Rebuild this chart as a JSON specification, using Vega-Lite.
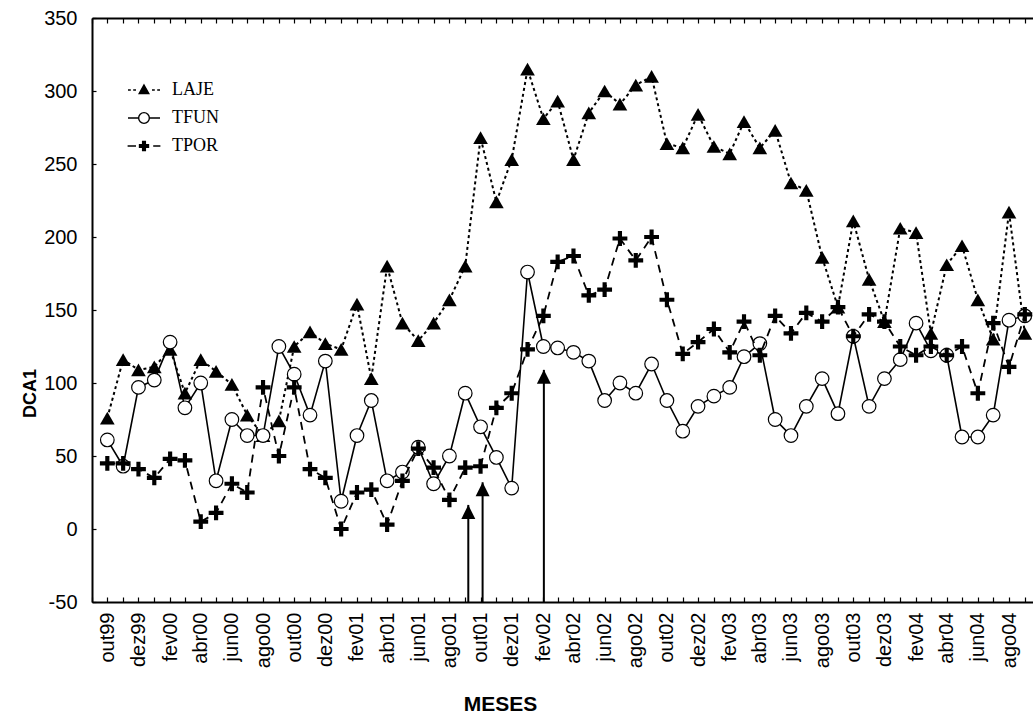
{
  "$schema": "https://vega.github.io/schema/vega-lite/v6.json",
  "autosize": "none",
  "width": 941,
  "height": 584,
  "padding": {"left": 92, "top": 18, "right": 0, "bottom": 112},
  "background": "white",
  "config": {
    "view": {"stroke": null},
    "axis": {"grid": false, "domainColor": "black", "tickColor": "black", "labelColor": "black", "titleColor": "black"}
  },
  "datasets": {
    "meses": [
      {"mes": "1999-10-01", "LAJE": 76, "TFUN": 61, "TPOR": 45},
      {"mes": "1999-11-01", "LAJE": 116, "TFUN": 43, "TPOR": 45},
      {"mes": "1999-12-01", "LAJE": 109, "TFUN": 97, "TPOR": 41},
      {"mes": "2000-01-01", "LAJE": 111, "TFUN": 102, "TPOR": 35},
      {"mes": "2000-02-01", "LAJE": 123, "TFUN": 128, "TPOR": 48},
      {"mes": "2000-03-01", "LAJE": 93, "TFUN": 83, "TPOR": 47},
      {"mes": "2000-04-01", "LAJE": 116, "TFUN": 100, "TPOR": 5},
      {"mes": "2000-05-01", "LAJE": 108, "TFUN": 33, "TPOR": 11},
      {"mes": "2000-06-01", "LAJE": 99, "TFUN": 75, "TPOR": 31},
      {"mes": "2000-07-01", "LAJE": 78, "TFUN": 64, "TPOR": 25},
      {"mes": "2000-08-01", "LAJE": 64, "TFUN": 64, "TPOR": 97},
      {"mes": "2000-09-01", "LAJE": 74, "TFUN": 125, "TPOR": 50},
      {"mes": "2000-10-01", "LAJE": 125, "TFUN": 106, "TPOR": 97},
      {"mes": "2000-11-01", "LAJE": 135, "TFUN": 78, "TPOR": 41},
      {"mes": "2000-12-01", "LAJE": 127, "TFUN": 115, "TPOR": 35},
      {"mes": "2001-01-01", "LAJE": 123, "TFUN": 19, "TPOR": 0},
      {"mes": "2001-02-01", "LAJE": 154, "TFUN": 64, "TPOR": 25},
      {"mes": "2001-03-01", "LAJE": 103, "TFUN": 88, "TPOR": 27},
      {"mes": "2001-04-01", "LAJE": 180, "TFUN": 33, "TPOR": 3},
      {"mes": "2001-05-01", "LAJE": 141, "TFUN": 39, "TPOR": 33},
      {"mes": "2001-06-01", "LAJE": 129, "TFUN": 56, "TPOR": 55},
      {"mes": "2001-07-01", "LAJE": 141, "TFUN": 31, "TPOR": 42},
      {"mes": "2001-08-01", "LAJE": 157, "TFUN": 50, "TPOR": 20},
      {"mes": "2001-09-01", "LAJE": 180, "TFUN": 93, "TPOR": 42},
      {"mes": "2001-10-01", "LAJE": 268, "TFUN": 70, "TPOR": 43},
      {"mes": "2001-11-01", "LAJE": 224, "TFUN": 49, "TPOR": 83},
      {"mes": "2001-12-01", "LAJE": 253, "TFUN": 28, "TPOR": 93},
      {"mes": "2002-01-01", "LAJE": 315, "TFUN": 176, "TPOR": 123},
      {"mes": "2002-02-01", "LAJE": 281, "TFUN": 125, "TPOR": 146},
      {"mes": "2002-03-01", "LAJE": 293, "TFUN": 124, "TPOR": 183},
      {"mes": "2002-04-01", "LAJE": 253, "TFUN": 121, "TPOR": 187},
      {"mes": "2002-05-01", "LAJE": 285, "TFUN": 115, "TPOR": 160},
      {"mes": "2002-06-01", "LAJE": 300, "TFUN": 88, "TPOR": 164},
      {"mes": "2002-07-01", "LAJE": 291, "TFUN": 100, "TPOR": 199},
      {"mes": "2002-08-01", "LAJE": 304, "TFUN": 93, "TPOR": 184},
      {"mes": "2002-09-01", "LAJE": 310, "TFUN": 113, "TPOR": 200},
      {"mes": "2002-10-01", "LAJE": 264, "TFUN": 88, "TPOR": 157},
      {"mes": "2002-11-01", "LAJE": 261, "TFUN": 67, "TPOR": 120},
      {"mes": "2002-12-01", "LAJE": 284, "TFUN": 84, "TPOR": 128},
      {"mes": "2003-01-01", "LAJE": 262, "TFUN": 91, "TPOR": 137},
      {"mes": "2003-02-01", "LAJE": 257, "TFUN": 97, "TPOR": 121},
      {"mes": "2003-03-01", "LAJE": 279, "TFUN": 118, "TPOR": 142},
      {"mes": "2003-04-01", "LAJE": 261, "TFUN": 127, "TPOR": 119},
      {"mes": "2003-05-01", "LAJE": 273, "TFUN": 75, "TPOR": 146},
      {"mes": "2003-06-01", "LAJE": 237, "TFUN": 64, "TPOR": 134},
      {"mes": "2003-07-01", "LAJE": 232, "TFUN": 84, "TPOR": 148},
      {"mes": "2003-08-01", "LAJE": 186, "TFUN": 103, "TPOR": 142},
      {"mes": "2003-09-01", "LAJE": 152, "TFUN": 79, "TPOR": 152},
      {"mes": "2003-10-01", "LAJE": 211, "TFUN": 132, "TPOR": 132},
      {"mes": "2003-11-01", "LAJE": 171, "TFUN": 84, "TPOR": 147},
      {"mes": "2003-12-01", "LAJE": 142, "TFUN": 103, "TPOR": 142},
      {"mes": "2004-01-01", "LAJE": 206, "TFUN": 116, "TPOR": 125},
      {"mes": "2004-02-01", "LAJE": 203, "TFUN": 141, "TPOR": 119},
      {"mes": "2004-03-01", "LAJE": 134, "TFUN": 122, "TPOR": 125},
      {"mes": "2004-04-01", "LAJE": 181, "TFUN": 119, "TPOR": 119},
      {"mes": "2004-05-01", "LAJE": 194, "TFUN": 63, "TPOR": 125},
      {"mes": "2004-06-01", "LAJE": 157, "TFUN": 63, "TPOR": 93},
      {"mes": "2004-07-01", "LAJE": 130, "TFUN": 78, "TPOR": 141},
      {"mes": "2004-08-01", "LAJE": 217, "TFUN": 143, "TPOR": 111},
      {"mes": "2004-09-01", "LAJE": 134, "TFUN": 146, "TPOR": 147}
    ],
    "setas": [
      {"mes": "2001-09-07", "base": -50, "topo": 16.5},
      {"mes": "2001-10-05", "base": -50, "topo": 32},
      {"mes": "2002-02-02", "base": -50, "topo": 109}
    ]
  },
  "resolve": {"axis": {"x": "independent"}},
  "layer": [
    {
      "data": {"name": "meses"},
      "transform": [
        {"fold": ["LAJE", "TFUN", "TPOR"], "as": ["serie", "dca1"]},
        {"filter": "datum.serie === 'LAJE'"}
      ],
      "mark": {"type": "line", "color": "black", "strokeWidth": 2, "strokeDash": [3, 3]},
      "encoding": {
        "x": {
          "field": "mes", "type": "temporal",
          "scale": {"type": "utc", "domain": [
            {"year": 1999, "month": 9, "date": 1, "utc": true},
            {"year": 2004, "month": 9, "date": 17, "utc": true}
          ]},
          "axis": {
            "orient": "bottom",
            "tickCount": {"interval": "month", "step": 1},
            "tickSize": -5, "tickWidth": 1.2, "domainWidth": 2,
            "labelExpr": "utcmonth(datum.value) % 2 == 1 ? ['jan','fev','mar','abr','mai','jun','jul','ago','set','out','nov','dez'][utcmonth(datum.value)] + utcFormat(datum.value, '%y') : ''",
            "labelAngle": 270, "labelAlign": "right", "labelBaseline": "middle",
            "labelPadding": 15, "labelFont": "Liberation Sans", "labelFontSize": 20,
            "labelOverlap": false, "labelFlush": false, "labelBound": false,
            "title": "MESES", "titleFont": "Liberation Sans", "titleFontSize": 21, "titleFontWeight": "bold",
            "titleX": 408, "titleY": 108, "titleBaseline": "alphabetic", "titleAlign": "center"
          }
        },
        "y": {
          "field": "dca1", "type": "quantitative",
          "scale": {"domain": [-50, 350], "nice": false, "zero": false},
          "axis": {
            "values": [-50, 0, 50, 100, 150, 200, 250, 300, 350],
            "labelExpr": "'' + datum.value",
            "tickSize": -4, "tickWidth": 1.2, "domainWidth": 2,
            "labelPadding": 19, "labelFont": "Liberation Sans", "labelFontSize": 20,
            "labelOverlap": false, "labelFlush": false, "labelBound": false,
            "title": "DCA1", "titleFont": "Liberation Sans", "titleFontSize": 18, "titleFontWeight": "bold",
            "titleAngle": 270, "titleX": -62, "titleY": 375, "titleAlign": "center", "titleBaseline": "middle"
          }
        }
      }
    },
    {
      "data": {"name": "meses"},
      "transform": [
        {"fold": ["LAJE", "TFUN", "TPOR"], "as": ["serie", "dca1"]},
        {"filter": "datum.serie === 'LAJE'"}
      ],
      "mark": {"type": "point", "shape": "triangle-up", "filled": true, "fill": "black", "strokeWidth": 0, "size": 215, "opacity": 1},
      "encoding": {
        "x": {
          "field": "mes", "type": "temporal",
          "axis": {
            "orient": "top", "labels": false, "title": null,
            "tickCount": {"interval": "month", "step": 1},
            "tickSize": -5, "tickWidth": 1.2, "domainWidth": 2
          }
        },
        "y": {"field": "dca1", "type": "quantitative"}
      }
    },
    {
      "data": {"name": "meses"},
      "transform": [
        {"fold": ["LAJE", "TFUN", "TPOR"], "as": ["serie", "dca1"]},
        {"filter": "datum.serie === 'TFUN'"}
      ],
      "mark": {"type": "line", "color": "black", "strokeWidth": 1.6},
      "encoding": {
        "x": {"field": "mes", "type": "temporal", "axis": null},
        "y": {"field": "dca1", "type": "quantitative"}
      }
    },
    {
      "data": {"name": "meses"},
      "transform": [
        {"fold": ["LAJE", "TFUN", "TPOR"], "as": ["serie", "dca1"]},
        {"filter": "datum.serie === 'TFUN'"}
      ],
      "mark": {"type": "point", "shape": "circle", "filled": true, "fill": "white", "stroke": "black", "strokeWidth": 1.2, "size": 185, "opacity": 1},
      "encoding": {
        "x": {"field": "mes", "type": "temporal", "axis": null},
        "y": {"field": "dca1", "type": "quantitative"}
      }
    },
    {
      "data": {"name": "meses"},
      "transform": [
        {"fold": ["LAJE", "TFUN", "TPOR"], "as": ["serie", "dca1"]},
        {"filter": "datum.serie === 'TPOR'"}
      ],
      "mark": {"type": "line", "color": "black", "strokeWidth": 1.8, "strokeDash": [8, 6]},
      "encoding": {
        "x": {"field": "mes", "type": "temporal", "axis": null},
        "y": {"field": "dca1", "type": "quantitative"}
      }
    },
    {
      "data": {"name": "meses"},
      "transform": [
        {"fold": ["LAJE", "TFUN", "TPOR"], "as": ["serie", "dca1"]},
        {"filter": "datum.serie === 'TPOR'"}
      ],
      "mark": {"type": "point", "shape": "M-1,-0.28H-0.28V-1H0.28V-0.28H1V0.28H0.28V1H-0.28V0.28H-1Z", "filled": true, "fill": "black", "strokeWidth": 0, "size": 220, "opacity": 1},
      "encoding": {
        "x": {"field": "mes", "type": "temporal", "axis": null},
        "y": {"field": "dca1", "type": "quantitative"}
      }
    },
    {
      "data": {"name": "setas"},
      "mark": {"type": "rule", "color": "black", "strokeWidth": 2},
      "encoding": {
        "x": {"field": "mes", "type": "temporal", "axis": null},
        "y": {"field": "base", "type": "quantitative"},
        "y2": {"field": "topo"}
      }
    },
    {
      "data": {"name": "setas"},
      "mark": {"type": "point", "shape": "M0,0L0.5,1L-0.5,1Z", "filled": true, "fill": "black", "strokeWidth": 0, "size": 784, "opacity": 1},
      "encoding": {
        "x": {"field": "mes", "type": "temporal", "axis": null},
        "y": {"field": "topo", "type": "quantitative"}
      }
    },
    {
      "data": {"name": "meses"},
      "transform": [
        {"fold": ["LAJE", "TFUN", "TPOR"], "as": ["serie", "dca1"]},
        {"filter": "false"}
      ],
      "mark": {"type": "point", "filled": true, "stroke": "black", "strokeWidth": 1.4, "size": 256, "opacity": 1},
      "encoding": {
        "x": {"field": "mes", "type": "temporal", "axis": null},
        "y": {"field": "dca1", "type": "quantitative"},
        "shape": {
          "field": "serie", "type": "nominal",
          "scale": {
            "domain": ["LAJE", "TFUN", "TPOR"],
            "range": [
              "M-2,0H-1.65M-1.35,0H-1M1,0H1.35M1.65,0H2M0,-0.62L0.6,0.45L-0.6,0.45Z",
              "M-2,0H-0.67M0.67,0H2M0.67,0A0.67,0.67,0,1,1,-0.67,0A0.67,0.67,0,1,1,0.67,0Z",
              "M-2.05,0H-1M1.15,0H2.05M-0.56,-0.17H-0.17V-0.56H0.17V-0.17H0.56V0.17H0.17V0.56H-0.17V0.17H-0.56Z"
            ]
          },
          "legend": {
            "title": null, "orient": "none", "legendX": 43, "legendY": 63, "padding": 0,
            "labelFont": "Liberation Serif", "labelFontSize": 18, "labelColor": "black",
            "labelOffset": 19, "rowPadding": 10, "symbolSize": 256,
            "symbolStrokeColor": "black", "symbolStrokeWidth": 1.4, "symbolOpacity": 1,
            "encoding": {"symbols": {"stroke": {"value": "black"}, "strokeWidth": {"value": 1.4}}}
          }
        },
        "fill": {
          "field": "serie", "type": "nominal",
          "scale": {"domain": ["LAJE", "TFUN", "TPOR"], "range": ["black", "white", "black"]},
          "legend": {
            "title": null, "orient": "none", "legendX": 43, "legendY": 63, "padding": 0,
            "labelFont": "Liberation Serif", "labelFontSize": 18, "labelColor": "black",
            "labelOffset": 19, "rowPadding": 10, "symbolSize": 256,
            "symbolStrokeColor": "black", "symbolStrokeWidth": 1.4, "symbolOpacity": 1,
            "encoding": {"symbols": {"stroke": {"value": "black"}, "strokeWidth": {"value": 1.4}}}
          }
        }
      }
    }
  ]
}
